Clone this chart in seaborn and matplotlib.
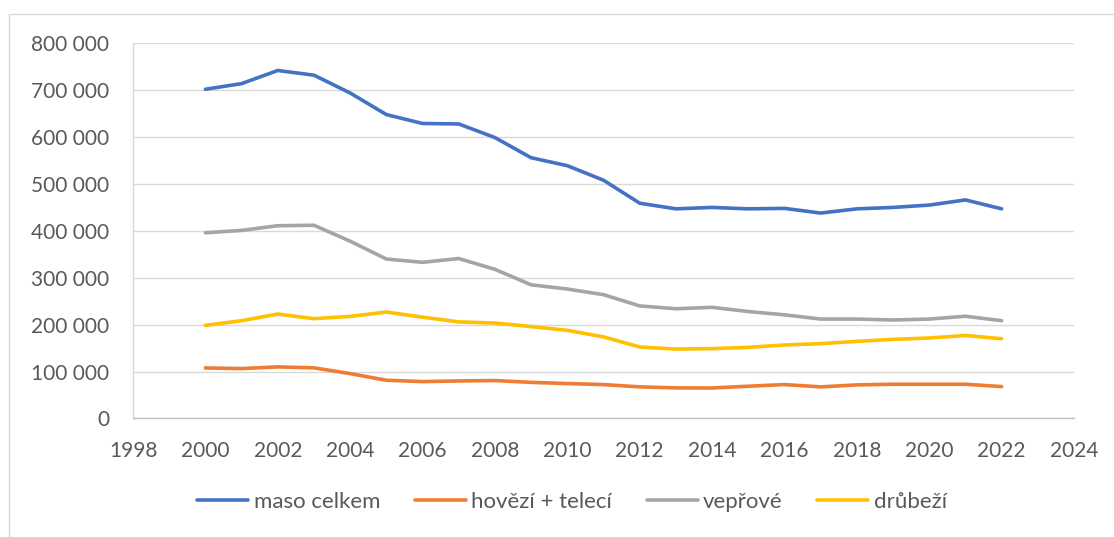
import matplotlib
matplotlib.use("Agg")
import matplotlib.pyplot as plt
import seaborn as sns
import pandas as pd
from matplotlib.ticker import FuncFormatter, MultipleLocator
from matplotlib.lines import Line2D

years = list(range(2000, 2023))
maso_celkem = [702000, 714000, 742000, 732000, 694000, 648000, 629000, 628000, 599000, 556000,
               539000, 508000, 459000, 447000, 450000, 447000, 448000, 438000, 447000, 450000,
               455000, 466000, 447000]
hovezi = [107800, 106400, 110000, 108000, 95700, 81500, 78700, 80000, 80900, 77000,
          74500, 72300, 67400, 65200, 65000, 68800, 72300, 67400, 71600, 73000,
          73000, 73000, 68000]
veprove = [396000, 401000, 411000, 412000, 378000, 340000, 333000, 341000, 318000, 285000,
           276000, 264000, 240000, 234000, 237000, 228000, 221000, 212000, 212000, 210000,
           212000, 218000, 208500]
drubezi = [198600, 208500, 222700, 212800, 217700, 227000, 216000, 206000, 203500, 196000,
           188000, 174000, 152500, 148000, 149000, 151700, 156700, 159600, 164500, 168700,
           171600, 177000, 170000]
series_names = ["maso celkem", "hovězí + telecí", "vepřové", "drůbeží"]
colors = ["#4472C4", "#ED7D31", "#A5A5A5", "#FFC000"]

frames = []
for name, vals in zip(series_names, [maso_celkem, hovezi, veprove, drubezi]):
    frames.append(pd.DataFrame({"rok": years, "hodnota": vals, "druh": name}))
df = pd.concat(frames, ignore_index=True)

sns.set_theme(style="white")
plt.rcParams["font.family"] = ["Lato", "DejaVu Sans"]

fig = plt.figure(figsize=(11.14, 5.37), dpi=100)
ax = fig.add_axes([0.1194, 0.2207, 0.8447, 0.6987])

sns.lineplot(data=df, x="rok", y="hodnota", hue="druh", palette=colors,
             hue_order=series_names, linewidth=2.6, ax=ax, legend=True)

ax.set_xlim(1998, 2024)
ax.set_ylim(0, 800000)
ax.xaxis.set_major_locator(MultipleLocator(2))
ax.yaxis.set_major_locator(MultipleLocator(100000))
ax.yaxis.set_major_formatter(FuncFormatter(lambda v, p: f"{int(v):,}".replace(",", " ")))
ax.set_xlabel("")
ax.set_ylabel("")
ax.grid(axis="y", color="#D9D9D9", linewidth=1.0)
ax.grid(axis="x", visible=False)
for s in ["top", "right"]:
    ax.spines[s].set_visible(False)
for s in ["bottom", "left"]:
    ax.spines[s].set_color("#BFBFBF")
    ax.spines[s].set_linewidth(1.0)
ax.spines["left"].set_color("#D9D9D9")
ax.tick_params(axis="both", length=0, labelsize=15, colors="#595959")
ax.tick_params(axis="y", pad=17)
ax.tick_params(axis="x", pad=16)

ax.legend(loc="center", bbox_to_anchor=(0.4665, -0.2225), ncol=4, frameon=False,
          fontsize=16, handlelength=2.3, columnspacing=1.55, handletextpad=0.25,
          labelcolor="#595959")

# chart-area border (left and top edges visible in the reference)
fig.add_artist(Line2D([8.5 / 1114, 8.5 / 1114], [0, 1 - 14 / 537], transform=fig.transFigure,
                      color="#D9D9D9", linewidth=1.0))
fig.add_artist(Line2D([8.5 / 1114, 1], [1 - 14 / 537, 1 - 14 / 537], transform=fig.transFigure,
                      color="#D9D9D9", linewidth=1.0))

fig.savefig("out.png", dpi=100)
